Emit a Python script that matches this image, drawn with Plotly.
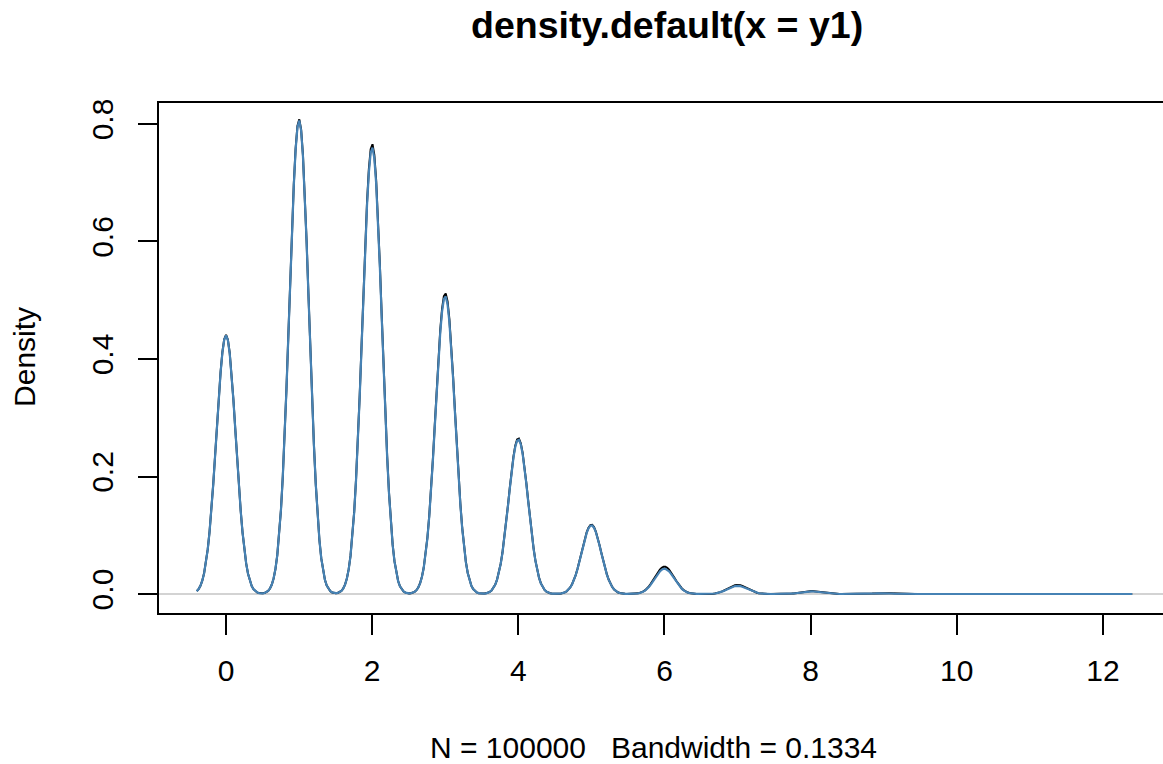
import numpy as np
import plotly.graph_objects as go

# Data (kernel density of integer-valued sample y1)
support = [0, 1, 2, 3, 4, 5, 6, 7, 8, 9, 10, 11, 12]
peak_black = [0.441, 0.808, 0.766, 0.512, 0.265, 0.118, 0.0465, 0.0155, 0.005, 0.0017, 0.0005, 0.0002, 0.00003]
peak_blue = [0.440, 0.806, 0.760, 0.507, 0.263, 0.117, 0.043, 0.014, 0.0045, 0.0013, 0.0004, 0.0001, 0.00003]
bandwidth = 0.1334
n_obs = 100000
x_ticks = [0, 2, 4, 6, 8, 10, 12]
y_ticks = [0.0, 0.2, 0.4, 0.6, 0.8]
y_tick_text = ["0.0", "0.2", "0.4", "0.6", "0.8"]

# density grid as R's density(): from min-3bw to max+3bw, 512 points
xs = np.linspace(min(support) - 3 * bandwidth, max(support) + 3 * bandwidth, 512)


def kde(peaks):
    out = np.zeros_like(xs)
    for k, h in zip(support, peaks):
        out += h * np.exp(-((xs - k) ** 2) / (2 * bandwidth ** 2))
    return out


fig = go.Figure()
fig.add_trace(go.Scatter(x=xs, y=kde(peak_black), mode="lines",
                         line=dict(color="black", width=2), hoverinfo="skip"))
fig.add_trace(go.Scatter(x=xs, y=kde(peak_blue), mode="lines",
                         line=dict(color="#4682B4", width=2.2), hoverinfo="skip"))

fig.add_shape(type="line", xref="paper", x0=0, x1=1, yref="y", y0=0, y1=0,
              line=dict(color="#D3D3D3", width=2), layer="below")

font = "Liberation Sans, Arial, Helvetica, sans-serif"
fig.update_layout(
    width=1163, height=764,
    margin=dict(l=159, r=0, t=103, b=151, pad=0),
    paper_bgcolor="white", plot_bgcolor="white",
    showlegend=False,
    font=dict(family=font, size=30, color="black"),
    xaxis=dict(range=[-0.917, 12.822], tickvals=x_ticks, ticktext=[str(v) for v in x_ticks],
               ticks="outside", ticklen=20, tickwidth=2, tickcolor="black",
               showline=True, mirror=True, linecolor="black", linewidth=2,
               showgrid=False, zeroline=False, tickfont=dict(size=30),
               ticklabelstandoff=10),
    yaxis=dict(range=[-0.0323, 0.8357], tickvals=y_ticks, ticktext=y_tick_text,
               ticks="outside", ticklen=19, tickwidth=2, tickcolor="black",
               showline=True, mirror=False, linecolor="black", linewidth=2,
               showgrid=False, zeroline=False, tickangle=-90, tickfont=dict(size=30),
               ticklabelstandoff=13),
    annotations=[
        dict(text="<b>density.default(x = y1)</b>", xref="paper", yref="paper",
             x=0.506, y=1.153, xanchor="center", yanchor="middle", showarrow=False,
             font=dict(size=37.5)),
        dict(text="N = %d   Bandwidth = %.4f" % (n_obs, bandwidth), xref="paper", yref="paper",
             x=0.4925, y=-0.2647, xanchor="center", yanchor="middle", showarrow=False,
             font=dict(size=30)),
        dict(text="Density", xref="paper", yref="paper", x=-0.1335, y=0.502,
             xanchor="center", yanchor="middle", textangle=-90, showarrow=False,
             font=dict(size=30)),
    ],
)

fig.write_html("out.html")
